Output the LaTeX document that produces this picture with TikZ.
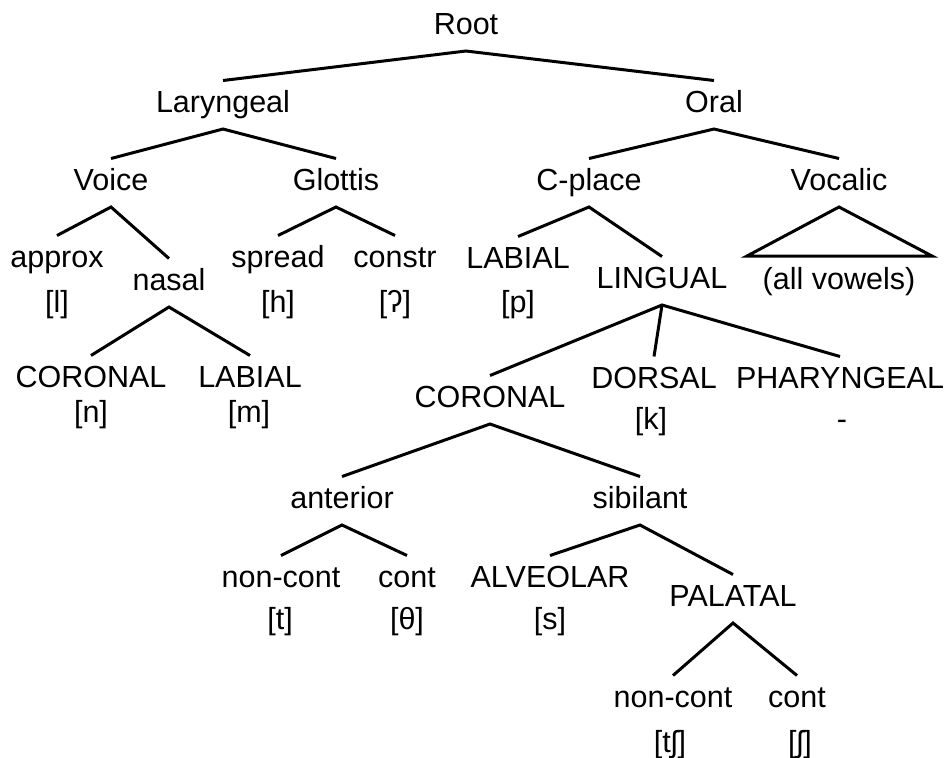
\documentclass[tikz,border=0pt]{standalone}
\usepackage{fontspec}
\setmainfont{Liberation Sans}
\usetikzlibrary{positioning}

\begin{document}
\begin{tikzpicture}[
  x=0.5pt, y=-0.5pt,
  lbl/.style={font=\fontsize{15.25}{18}\selectfont, anchor=base,
    inner xsep=1pt, inner ysep=4.75pt, outer sep=0pt,
    text height=11pt, text depth=3.75pt},
  ln/.style={line width=1.5pt, line join=miter},
]
\useasboundingbox (0,0) rectangle (952,757);

%% Root and the two main branches
\node[lbl] (root) at (466,34) {Root};
\node[lbl] (lar) at (223,112) {Laryngeal};
\node[lbl] (oral) at (714,112) {Oral};

%% second level
\node[lbl] (voice) at (111,190) {Voice};
\node[lbl] (glot) at (336,190) {Glottis};
\node[lbl] (cpl) at (589,190) {C-place};
\node[lbl] (voc) at (839,190) {Vocalic};

%% under Voice and Glottis
\node[lbl] (approx) at (57,267) {approx};
\node[lbl] (approxIpa) at (57,312) {[l]};
\node[lbl] (nasal) at (169,290) {nasal};
\node[lbl] (spread) at (278,267) {spread};
\node[lbl] (spreadIpa) at (278,312) {[h]};
\node[lbl] (constr) at (395,267) {constr};
\node[lbl] (constrIpa) at (395,312) {[ʔ]};

%% under C-place and Vocalic
\node[lbl] (lab) at (518,268) {LABIAL};
\node[lbl] (labIpa) at (518,312) {[p]};
\node[lbl] (ling) at (662,288) {LINGUAL};
\node[lbl] (vowels) at (839,289) {(all vowels)};
\coordinate (vocL) at (747,256);
\coordinate (vocR) at (932,256);

%% nasal places
\node[lbl] (nCor) at (91,387) {CORONAL};
\node[lbl] (nCorIpa) at (91,422) {[n]};
\node[lbl] (nLab) at (250,387) {LABIAL};
\node[lbl] (nLabIpa) at (249,422) {[m]};

%% lingual places
\node[lbl] (cor) at (490,407) {CORONAL};
\node[lbl] (dor) at (654,388) {DORSAL};
\node[lbl] (dorIpa) at (651,429) {[k]};
\node[lbl] (phar) at (840,388) {PHARYNGEAL};
\node[lbl] (pharIpa) at (842,429) {-};

%% coronal subtree
\node[lbl] (ant) at (342,508) {anterior};
\node[lbl] (sib) at (640,508) {sibilant};
\node[lbl] (antStop) at (281,587) {non-cont};
\node[lbl] (antStopIpa) at (280,629) {[t]};
\node[lbl] (antCont) at (407,587) {cont};
\node[lbl] (antContIpa) at (407,629) {[θ]};
\node[lbl] (alv) at (550,587) {ALVEOLAR};
\node[lbl] (alvIpa) at (550,629) {[s]};
\node[lbl] (pal) at (733,606) {PALATAL};
\node[lbl] (palStop) at (673,707) {non-cont};
\node[lbl] (palStopIpa) at (670,752) {[tʃ]};
\node[lbl] (palCont) at (797,707) {cont};
\node[lbl] (palContIpa) at (800,752) {[ʃ]};

%% branches
\draw[ln] (lar.north) -- (root.south) -- (oral.north);
\draw[ln] (voice.north) -- (lar.south) -- (glot.north);
\draw[ln] (cpl.north) -- (oral.south) -- (voc.north);
\draw[ln] (approx.north) -- (voice.south) -- (nasal.north);
\draw[ln] (spread.north) -- (glot.south) -- (constr.north);
\draw[ln] (lab.north) -- (cpl.south) -- (ling.north);
\draw[ln] (voc.south) -- (vocL) -- (vocR) -- cycle;
\draw[ln] (nCor.north) -- (nasal.south) -- (nLab.north);
\draw[ln] (cor.north) -- (ling.south) -- (phar.north);
\draw[ln] (ling.south) -- (dor.north);
\draw[ln] (ant.north) -- (cor.south) -- (sib.north);
\draw[ln] (antStop.north) -- (ant.south) -- (antCont.north);
\draw[ln] (alv.north) -- (sib.south) -- (pal.north);
\draw[ln] (palStop.north) -- (pal.south) -- (palCont.north);

\end{tikzpicture}
\end{document}
